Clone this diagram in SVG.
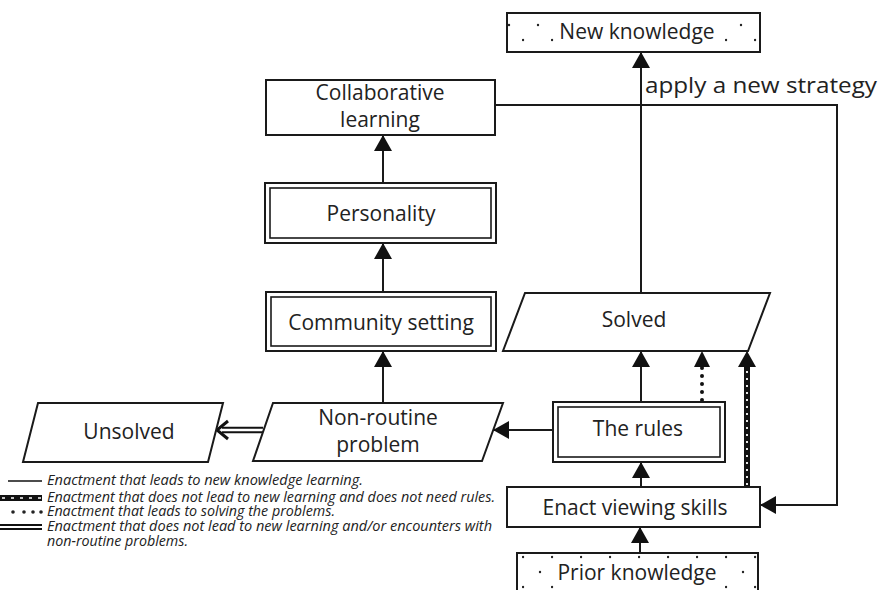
<svg xmlns="http://www.w3.org/2000/svg" width="882" height="590" viewBox="0 0 882 590">
  <style>
    .box { fill: #fff; stroke: #1a1a1a; stroke-width: 2; }
    .dbl-in { fill: none; stroke: #1a1a1a; stroke-width: 1.6; }
    .lbl { font-family: "Open Sans", "Noto Sans", sans-serif; font-size: 21px; fill: #222; text-anchor: middle; }
    .lbl-l { font-family: "Open Sans", "Noto Sans", sans-serif; font-size: 22px; fill: #222; }
    .leg { font-family: "Open Sans", "Noto Sans", sans-serif; font-size: 15px; font-style: italic; fill: #222; }
    .ln { fill: none; stroke: #1a1a1a; stroke-width: 2; }
    .dot { fill: #222; }
  </style>
  <defs>
    <marker id="arrow" viewBox="0 0 16 18" refX="16" refY="9" markerWidth="16" markerHeight="18" markerUnits="userSpaceOnUse" orient="auto">
      <path d="M0,0 L16,9 L0,18 Z" fill="#111"/>
    </marker>
    <pattern id="dotsTop" x="0" y="0" width="29" height="30" patternUnits="userSpaceOnUse">
      <rect width="29" height="30" fill="#fff"/>
      <circle cx="16" cy="25" r="1.2" class="dot"/>
      <circle cx="1" cy="10" r="1.2" class="dot"/>
    </pattern>
    <pattern id="dotsBottom" x="0" y="0" width="29" height="30" patternUnits="userSpaceOnUse">
      <rect width="29" height="30" fill="#fff"/>
      <circle cx="1" cy="17" r="1.2" class="dot"/>
      <circle cx="18" cy="2" r="1.2" class="dot"/>
    </pattern>
  </defs>

  <rect width="882" height="590" fill="#fff"/>

  <!-- connectors -->
  <g id="connectors">
    <line class="ln" x1="640" y1="553" x2="640" y2="527" marker-end="url(#arrow)"/>
    <line class="ln" x1="641" y1="487" x2="641" y2="462" marker-end="url(#arrow)"/>
    <line class="ln" x1="641" y1="402" x2="641" y2="351" marker-end="url(#arrow)"/>
    <line class="ln" x1="553" y1="430" x2="493" y2="430" marker-end="url(#arrow)"/>
    <line class="ln" x1="383" y1="403" x2="383" y2="351" marker-end="url(#arrow)"/>
    <line class="ln" x1="383" y1="292" x2="383" y2="243" marker-end="url(#arrow)"/>
    <line class="ln" x1="383" y1="183" x2="383" y2="135" marker-end="url(#arrow)"/>
    <line class="ln" x1="641" y1="293" x2="641" y2="52" marker-end="url(#arrow)"/>
    <path class="ln" d="M495,105 H837 V505 H760" marker-end="url(#arrow)"/>
    <!-- dotted: leads to solving -->
    <line x1="702" y1="400" x2="702" y2="366" stroke="#111" stroke-width="4" stroke-linecap="round" stroke-dasharray="0 8"/>
    <path d="M694,367 L702,351 L710,367 Z" fill="#111"/>
    <!-- thick dashed: no new learning, no rules -->
    <line x1="747" y1="487" x2="747" y2="364" stroke="#111" stroke-width="6"/>
    <line x1="747" y1="485" x2="747" y2="366" stroke="#fff" stroke-width="1.8" stroke-dasharray="2 5"/>
    <line x1="747" y1="366" x2="747" y2="351" stroke="#111" stroke-width="1" marker-end="url(#arrow)"/>
    <!-- double line: non-routine to unsolved -->
    <line x1="263" y1="430" x2="222" y2="430" stroke="#111" stroke-width="6.5"/>
    <line x1="263" y1="430" x2="220" y2="430" stroke="#fff" stroke-width="2.5"/>
    <path d="M228,421 L217,430 L228,439" fill="none" stroke="#111" stroke-width="3"/>
  </g>

  <!-- nodes -->
  <g id="new-knowledge">
    <rect x="507" y="13" width="253" height="39" fill="url(#dotsTop)" stroke="#1a1a1a" stroke-width="2"/>
    <rect x="555" y="17" width="165" height="31" fill="#fff"/>
    <text class="lbl" x="637" y="39" font-size="20">New knowledge</text>
  </g>

  <g id="apply-strategy">
    <text class="lbl-l" x="645" y="93" textLength="232" lengthAdjust="spacingAndGlyphs">apply a new strategy</text>
  </g>

  <g id="collaborative-learning">
    <rect class="box" x="266" y="80" width="229" height="55"/>
    <text class="lbl" x="380" y="100">Collaborative</text>
    <text class="lbl" x="380" y="127">learning</text>
  </g>

  <g id="personality">
    <rect class="box" x="265" y="183" width="231" height="60"/>
    <rect class="dbl-in" x="270" y="188" width="221" height="50"/>
    <text class="lbl" x="381" y="221">Personality</text>
  </g>

  <g id="community-setting">
    <rect class="box" x="266" y="292" width="230" height="59"/>
    <rect class="dbl-in" x="271" y="297" width="220" height="49"/>
    <text class="lbl" x="381" y="330">Community setting</text>
  </g>

  <g id="solved">
    <polygon class="box" points="525,293 770,293 748,351 503,351"/>
    <text class="lbl" x="634" y="327">Solved</text>
  </g>

  <g id="unsolved">
    <polygon class="box" points="38,403 223,403 208,462 23,462"/>
    <text class="lbl" x="129" y="439">Unsolved</text>
  </g>

  <g id="non-routine-problem">
    <polygon class="box" points="273,403 503,403 482,461 253,461"/>
    <text class="lbl" x="378" y="425">Non-routine</text>
    <text class="lbl" x="378" y="452">problem</text>
  </g>

  <g id="the-rules">
    <rect class="box" x="553" y="402" width="172" height="60"/>
    <rect class="dbl-in" x="558" y="407" width="162" height="50"/>
    <text class="lbl" x="638" y="436">The rules</text>
  </g>

  <g id="enact-viewing-skills">
    <rect class="box" x="507" y="487" width="253" height="40"/>
    <text class="lbl" x="635" y="515">Enact viewing skills</text>
  </g>

  <g id="prior-knowledge">
    <rect x="517" y="553" width="241" height="50" fill="url(#dotsBottom)" stroke="#1a1a1a" stroke-width="2"/>
    <rect x="555" y="560" width="165" height="30" fill="#fff"/>
    <text class="lbl" x="637" y="580">Prior knowledge</text>
  </g>

  <!-- legend -->
  <g id="legend">
    <line x1="8" y1="481" x2="42" y2="481" stroke="#111" stroke-width="1.5"/>
    <text class="leg" x="47" y="485" textLength="316" lengthAdjust="spacingAndGlyphs">Enactment that leads to new knowledge learning.</text>

    <line x1="0" y1="498" x2="42" y2="498" stroke="#111" stroke-width="6"/>
    <line x1="2" y1="498" x2="42" y2="498" stroke="#fff" stroke-width="1.6" stroke-dasharray="3 6"/>
    <text class="leg" x="47" y="502" textLength="448" lengthAdjust="spacingAndGlyphs">Enactment that does not lead to new learning and does not need rules.</text>

    <circle cx="13" cy="512" r="1.8" class="dot"/>
    <circle cx="24" cy="512" r="1.8" class="dot"/>
    <circle cx="33" cy="512" r="1.8" class="dot"/>
    <circle cx="41" cy="512" r="1.8" class="dot"/>
    <text class="leg" x="47" y="516" textLength="288" lengthAdjust="spacingAndGlyphs">Enactment that leads to solving the problems.</text>

    <line x1="0" y1="527" x2="42" y2="527" stroke="#111" stroke-width="6"/>
    <line x1="0" y1="527" x2="42" y2="527" stroke="#fff" stroke-width="2"/>
    <text class="leg" x="47" y="531" textLength="445" lengthAdjust="spacingAndGlyphs">Enactment that does not lead to new learning and/or encounters with</text>
    <text class="leg" x="47" y="546" textLength="141" lengthAdjust="spacingAndGlyphs">non-routine problems.</text>
  </g>
</svg>
